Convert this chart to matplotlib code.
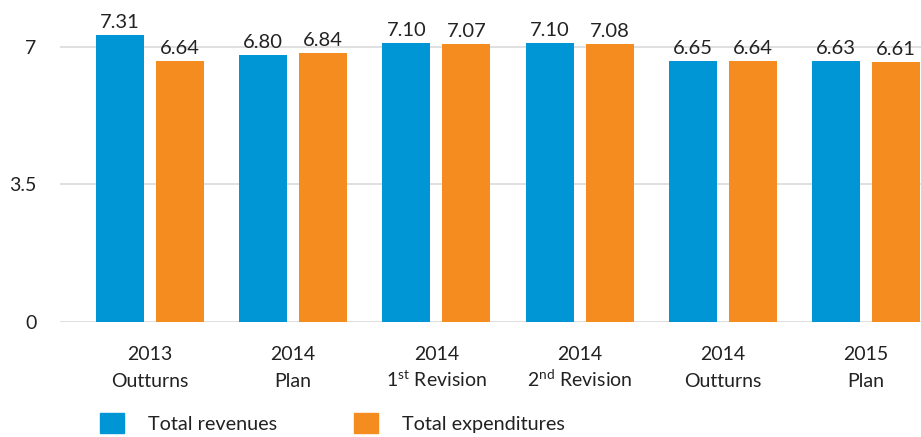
import matplotlib
matplotlib.use("Agg")
import matplotlib.pyplot as plt
from matplotlib.patches import Patch
import numpy as np

plt.rcParams['font.family'] = ['Lato', 'DejaVu Sans']
plt.rcParams['mathtext.fontset'] = 'custom'
plt.rcParams['mathtext.rm'] = 'Lato'

# data
years = ['2013', '2014', '2014', '2014', '2014', '2015']
stages = ['Outturns', 'Plan', '1$^{\\rm st}$ Revision', '2$^{\\rm nd}$ Revision', 'Outturns', 'Plan']
revenues = [7.31, 6.80, 7.10, 7.10, 6.65, 6.63]
expenditures = [6.64, 6.84, 7.07, 7.08, 6.64, 6.61]
yticks = [0, 3.5, 7]
ytick_labels = ['0', '3.5', '7']

blue = '#0096d6'
orange = '#f58c20'
text_c = '#222222'

fig = plt.figure(figsize=(9.21, 4.37), dpi=100)
ax = fig.add_axes([60/921, 115/437, 861/921, 322/437])

x = np.arange(len(years))
w = 0.335
off = 0.2095
b1 = ax.bar(x - off, revenues, w, color=blue, zorder=3)
b2 = ax.bar(x + off, expenditures, w, color=orange, zorder=3)

# value labels on top of each bar
for bars in (b1, b2):
    for r in bars:
        h = r.get_height()
        ax.annotate('{:.2f}'.format(h), (r.get_x() + r.get_width()/2, h),
                    xytext=(0, 3), textcoords='offset points', ha='center', va='bottom',
                    fontsize=14.5, color=text_c, annotation_clip=False)

# two-line category labels, placed by baseline so the superscripts don't shift lines
for i in x:
    ax.annotate(years[i], (i, 0), xycoords=('data', 'axes fraction'), xytext=(0, -27),
                textcoords='offset points', ha='center', va='baseline', fontsize=14, color=text_c)
    ax.annotate(stages[i], (i, 0), xycoords=('data', 'axes fraction'), xytext=(0, -47),
                textcoords='offset points', ha='center', va='baseline', fontsize=14, color=text_c)

ax.set_xlim(-0.628, 5.384)
ax.set_ylim(0, 8.195)
ax.set_yticks(yticks)
ax.set_yticklabels(ytick_labels)
ax.set_xticks([])
ax.tick_params(axis='y', length=0, pad=17, labelsize=14, labelcolor=text_c)
for s in ax.spines.values():
    s.set_visible(False)
ax.grid(axis='y', color='#dadada', linewidth=1.2, zorder=0)

handles = [Patch(color=blue), Patch(color=orange)]
fig.legend(handles, ['Total revenues', 'Total expenditures'], ncol=2, frameon=False,
           loc='center left', bbox_to_anchor=(100/921, 14/437), borderpad=0, borderaxespad=0,
           handlelength=1.2, handleheight=1.2, handletextpad=1.2, columnspacing=3.9,
           prop={'size': 14.3}, labelcolor=text_c)

fig.savefig('out.png', dpi=100)
